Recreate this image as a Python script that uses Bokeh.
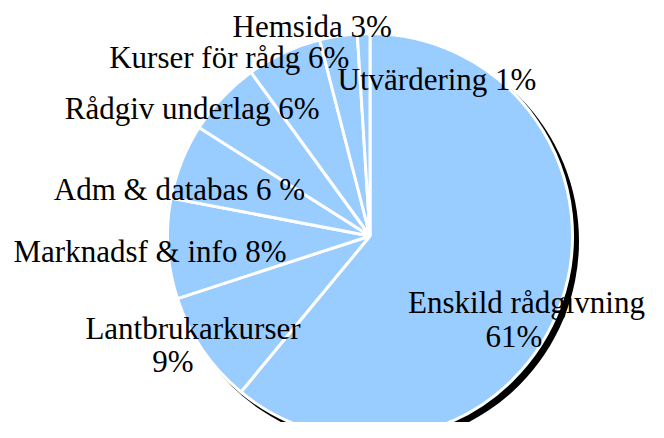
import numpy as np
from bokeh.plotting import figure
from bokeh.models import Range1d, ColumnDataSource
from bokeh.core.properties import value
from bokeh.embed import file_html
from bokeh.resources import INLINE

# ---- data ----
categories = ["Enskild rådgivning", "Lantbrukarkurser", "Marknadsf & info",
              "Adm & databas", "Rådgiv underlag", "Kurser för rådg",
              "Hemsida", "Utvärdering"]
shares = [61, 9, 8, 6, 6, 6, 3, 1]
label_texts = ["Enskild rådgivning\n61%", "Lantbrukarkurser\n9%",
               "Marknadsf & info 8%", "Adm & databas 6 %",
               "Rådgiv underlag 6%", "Kurser för rådg 6%",
               "Hemsida 3%", "Utvärdering 1%"]

# ---- layout (pixel-like coordinates, y measured from bottom) ----
H = 438
W_FIG, H_FIG = 648, 422
cx, cy, r = 369.5, H - 235.5, 202.5
shadow_dx, shadow_dy = 5, 5
baseline_fix = 9.5
# anchor (center x, baseline y from top) of each text line
label_pos = [[(526, 311.7), (513.5, 345)],
             [(192.5, 337.3), (172.5, 370.7)],
             [(149.5, 260)],
             [(179, 198.3)],
             [(191.7, 117.7)],
             [(228.8, 66.7)],
             [(311.7, 35)],
             [(436.5, 88)]]

vals = np.array(shares, dtype=float)
frac = vals / vals.sum()
cum_after = np.cumsum(frac)
cum_before = cum_after - frac
start = np.pi / 2 - cum_before * 2 * np.pi
end = np.pi / 2 - cum_after * 2 * np.pi

src = ColumnDataSource(dict(cat=categories, start=start, end=end,
                            x=[cx] * len(vals), y=[cy] * len(vals)))

p = figure(width=W_FIG, height=H_FIG, output_backend="svg", toolbar_location=None,
           x_range=Range1d(0, W_FIG), y_range=Range1d(H - H_FIG, H),
           min_border=0, background_fill_color="white")
p.axis.visible = False
p.grid.visible = False
p.outline_line_color = None

# shadow
p.circle(x=[cx + shadow_dx], y=[cy - shadow_dy], radius=r + 1.5,
         fill_color="black", line_color=None)

p.wedge(x="x", y="y", radius=r, start_angle="start", end_angle="end",
        direction="clock", source=src, fill_color="#99ccff",
        line_color="white", line_width=3)

tx, ty, tt = [], [], []
for text, pos in zip(label_texts, label_pos):
    for line, (lx, ly) in zip(text.split("\n"), pos):
        tx.append(lx)
        ty.append(H - (ly - baseline_fix))
        tt.append(line)

p.text(x=tx, y=ty, text=tt, text_font=value("Liberation Serif"),
       text_font_size="31px", text_align="center",
       text_baseline="alphabetic", text_color="black")

open("out.html", "w").write(file_html(p, INLINE))
